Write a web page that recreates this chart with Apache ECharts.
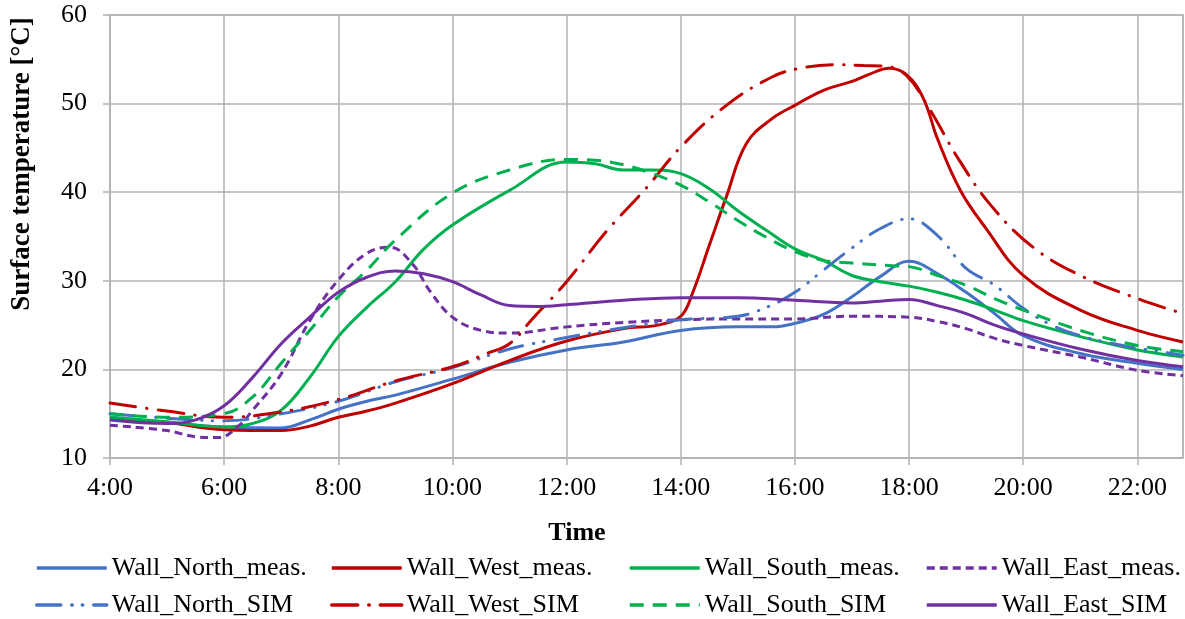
<!DOCTYPE html>
<html>
<head>
<meta charset="utf-8">
<script src="https://cdn.jsdelivr.net/npm/echarts@6/dist/echarts.min.js"></script>
<style>
html, body { margin: 0; padding: 0; background: #fff; }
#chart { width: 1185px; height: 619px; }
</style>
</head>
<body>
<div id="chart"></div>
<script>
// [hour, °C]
var northMeas = [[4,14.6],[5,14.0],[6,13.5],[7,13.4],[7.5,14.3],[8,15.5],[8.5,16.4],[9,17.1],[10,18.9],[11,20.8],[12,22.2],[13,23.1],[14,24.4],[15,24.8],[15.6,24.8],[16,25.2],[16.5,26.2],[17,28.2],[17.5,30.5],[18,32.2],[18.5,30.8],[19,28.7],[19.5,26.3],[20,23.8],[21,21.8],[22,20.7],[22.8,20.0]];
var northSim = [[4,15.0],[5,14.5],[6,14.2],[7,15.0],[8,16.4],[9,18.6],[10,20.2],[11,22.3],[12,23.6],[13,24.7],[14,25.6],[15,26.0],[15.5,27.0],[16,28.7],[16.5,31.2],[17,33.7],[17.5,35.9],[18,37.0],[18.5,35.1],[19,31.4],[19.5,29.5],[20,26.9],[20.5,25.0],[21,23.8],[21.5,23.0],[22,22.4],[22.8,21.6]];
var westMeas = [[4,14.5],[5,14.0],[6,13.2],[7,13.1],[7.5,13.6],[8,14.6],[8.5,15.3],[9,16.2],[10,18.4],[11,21.0],[12,23.2],[13,24.6],[13.6,25.0],[14,26.0],[14.2,28.5],[14.5,34.0],[14.8,39.5],[15.15,45.5],[15.6,48.3],[16,49.8],[16.5,51.5],[17,52.5],[17.3,53.3],[17.65,54.0],[17.95,53.3],[18.25,50.6],[18.5,46.0],[18.9,40.2],[19.35,35.9],[20,30.6],[21,26.7],[22,24.4],[22.8,23.1]];
var westSim = [[4,16.2],[5,15.3],[6,14.6],[7,15.2],[8,16.6],[9,18.7],[10,20.3],[10.6,21.8],[11,22.9],[11.4,25.7],[12,29.9],[12.7,35.6],[13.4,40.5],[14,45.1],[14.8,49.8],[15.6,53.0],[16.1,54.0],[16.7,54.4],[17.2,54.3],[17.6,54.2],[17.95,53.2],[18.35,49.5],[18.87,43.7],[19.45,38.4],[20.17,33.8],[21,30.6],[22,28.0],[22.8,26.3]];
var southMeas = [[4,14.6],[5,14.1],[6,13.5],[6.5,13.9],[7,15.4],[7.5,19.1],[8,23.7],[8.5,27.0],[9,29.9],[9.5,33.6],[10,36.3],[11,40.2],[12,43.4],[12.5,43.2],[13,42.5],[13.5,42.5],[14,42.1],[14.5,40.4],[15,37.9],[15.5,35.7],[16,33.6],[16.5,32.3],[17,30.6],[17.5,29.9],[18,29.4],[18.5,28.7],[19,27.8],[19.5,26.7],[20,25.5],[21,23.7],[22,22.2],[22.8,21.4]];
var southSim = [[4,15.0],[5,14.6],[6,15.0],[6.5,16.9],[7,20.7],[7.5,24.4],[8,28.2],[8.5,31.2],[9,34.6],[10,39.9],[11,42.5],[12,43.7],[12.5,43.6],[13,43.1],[13.5,42.1],[14,40.8],[14.5,38.9],[15,36.8],[15.5,34.9],[16,33.3],[16.5,32.3],[17,32.0],[17.7,31.7],[18,31.6],[18.5,30.6],[19,29.5],[19.5,28.0],[20,26.7],[21,24.4],[22,22.7],[22.8,22.0]];
var eastMeas = [[4,13.7],[5,13.1],[5.5,12.4],[5.9,12.3],[6.25,13.6],[6.5,15.4],[7,19.5],[7.5,25.5],[8,30.1],[8.5,33.1],[8.9,33.8],[9.3,31.9],[9.6,28.9],[10,25.9],[10.5,24.4],[11,24.1],[12,24.8],[13,25.3],[14,25.6],[15,25.7],[16,25.7],[17,26.0],[18,25.9],[18.5,25.4],[19,24.6],[19.5,23.5],[20,22.7],[21,21.4],[22,19.9],[22.8,19.3]];
var eastSim = [[4,14.3],[5,13.9],[5.5,14.3],[6,15.9],[6.5,19.1],[7,22.9],[7.5,25.9],[8,28.7],[8.5,30.4],[9,31.1],[9.5,30.8],[10,29.9],[10.5,28.4],[11,27.2],[11.5,27.1],[12,27.3],[13,27.8],[14,28.1],[15,28.1],[16,27.8],[17,27.5],[17.5,27.7],[18,27.9],[18.5,27.2],[19,26.3],[19.5,25.0],[20,24.0],[21,22.3],[22,21.0],[22.8,20.3]];

var seriesNames = ['Wall_North_meas.', 'Wall_West_meas.', 'Wall_South_meas.', 'Wall_East_meas.',
                   'Wall_North_SIM', 'Wall_West_SIM', 'Wall_South_SIM', 'Wall_East_SIM'];
var seriesData = [northMeas, westMeas, southMeas, eastMeas, northSim, westSim, southSim, eastSim];
var colors = ['#4472C4', '#C00000', '#00B050', '#7030A0', '#4472C4', '#C00000', '#00B050', '#7030A0'];
var dashes = ['solid', 'solid', 'solid', [8, 5], [24, 11, 0.5, 10, 0.5, 11], [26, 11, 0.5, 11], [14, 9], 'solid'];

var FONT = 'Liberation Serif, Times New Roman, serif';
var gridColor = '#b3b3b3';

var chart = echarts.init(document.getElementById('chart'));

var series = [];
var legends = [];
var colX = [35, 330, 628, 925];
var rowY = [553, 590];
for (var i = 0; i < seriesNames.length; i++) {
	var dotted = typeof dashes[i] === 'object' && dashes[i].length > 2;
	series.push({
		name: seriesNames[i],
		type: 'line',
		data: seriesData[i],
		smooth: 0.4,
		symbol: 'none',
		color: colors[i],
		lineStyle: {width: 3, color: colors[i], type: dashes[i], cap: dotted ? 'round' : 'butt'},
		z: 2 + i
	});
	legends.push({
		left: colX[i % 4],
		top: rowY[Math.floor(i / 4)],
		padding: 0,
		itemWidth: 70,
		itemHeight: 14,
		selectedMode: false,
		itemStyle: {opacity: 0},
		lineStyle: {width: 3.5},
		data: [seriesNames[i]],
		textStyle: {fontFamily: FONT, fontSize: 26, color: '#000', lineHeight: 30}
	});
}

var option = {
	animation: false,
	backgroundColor: '#fff',
	grid: {left: 110, right: 2, top: 15, bottom: 161, show: true, borderColor: gridColor, borderWidth: 1.5},
	xAxis: {
		type: 'value',
		min: 4,
		max: 22.8,
		interval: 2,
		axisLine: {lineStyle: {color: gridColor, width: 1.5}},
		axisTick: {show: true, length: 7, lineStyle: {color: gridColor, width: 1.5}},
		splitLine: {show: true, lineStyle: {color: gridColor, width: 1.5}},
		axisLabel: {
			showMaxLabel: false,
			margin: 17,
			fontFamily: FONT, fontSize: 26, color: '#000',
			formatter: function (v) { return Math.round(v) + ':00'; }
		}
	},
	yAxis: {
		type: 'value',
		min: 10,
		max: 60,
		interval: 10,
		axisLine: {show: true, lineStyle: {color: gridColor, width: 1.5}},
		axisTick: {show: true, length: 7, lineStyle: {color: gridColor, width: 1.5}},
		splitLine: {show: true, lineStyle: {color: gridColor, width: 1.5}},
		axisLabel: {margin: 23, fontFamily: FONT, fontSize: 26, color: '#000'}
	},
	legend: legends,
	graphic: [
		{
			type: 'text', x: 577, y: 533,
			style: {text: 'Time', font: 'bold 26px ' + FONT, fill: '#000', align: 'center', verticalAlign: 'middle'}
		},
		{
			type: 'text', x: 22, y: 164, rotation: Math.PI / 2,
			style: {text: 'Surface temperature [°C]', font: 'bold 27px ' + FONT, fill: '#000', align: 'center', verticalAlign: 'middle'}
		}
	],
	series: series
};

chart.setOption(option);
</script>
</body>
</html>
